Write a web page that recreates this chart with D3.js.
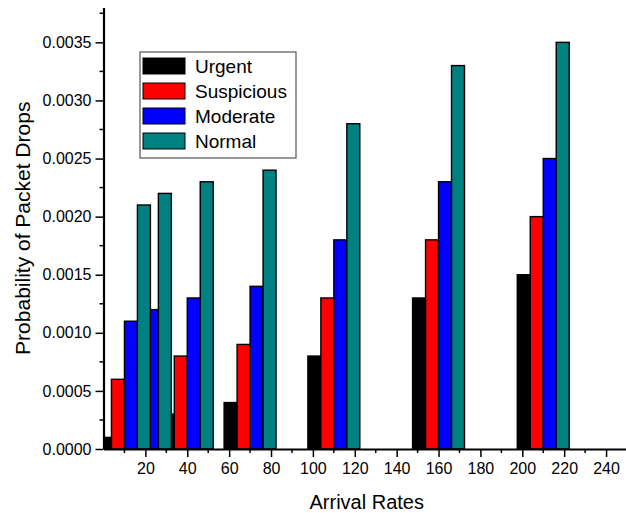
<!DOCTYPE html>
<html>
<head>
<meta charset="utf-8">
<script src="https://cdn.jsdelivr.net/npm/d3@7"></script>
<style>
	body { margin: 0; background: #fff; }
	svg { display: block; font-family: 'Liberation Sans', Arial, sans-serif; }
</style>
</head>
<body>
<div id="chart"></div>
<script>
// values (group centres on the arrival-rate axis)
const rates = [10, 20, 40, 70, 110, 160, 210];
const urgent = [0.0001, 0.0002, 0.0003, 0.0004, 0.0008, 0.0013, 0.0015];
const suspicious = [0.0006, 0.0007, 0.0008, 0.0009, 0.0013, 0.0018, 0.002];
const moderate = [0.0011, 0.0012, 0.0013, 0.0014, 0.0018, 0.0023, 0.0025];
const normal = [0.0021, 0.0022, 0.0023, 0.0024, 0.0028, 0.0033, 0.0035];

const seriesNames = ['Urgent', 'Suspicious', 'Moderate', 'Normal'];
const seriesColors = ['#000000', '#ff0000', '#0000ff', '#008080'];
const yTicks = [0, 0.0005, 0.001, 0.0015, 0.002, 0.0025, 0.003, 0.0035];
const xTicks = [20, 40, 60, 80, 100, 120, 140, 160, 180, 200, 220, 240];

const width = 626;
const height = 513;
const barUnits = 6.2; // width of one bar in axis units

const x = d3.scaleLinear().domain([0, 250]).range([103.5, 627]);
const y = d3.scaleLinear().domain([0, 0.0038]).range([449, 7.5]);

const svg = d3.select('#chart').append('svg').attr('width', width).attr('height', height);

svg.append('defs')
	.append('clipPath')
	.attr('id', 'plot-clip')
	.append('rect')
	.attr('x', x(0))
	.attr('y', 0)
	.attr('width', x(250) - x(0))
	.attr('height', y(0));

// bars drawn one series at a time, like the original plot (later series overlap earlier ones)
const allSeries = [urgent, suspicious, moderate, normal];
const bars = svg.append('g').attr('clip-path', 'url(#plot-clip)');
allSeries.forEach((values, s) => {
	bars.append('g')
		.selectAll('rect')
		.data(rates.map((r, i) => ({ rate: r, value: values[i] })))
		.join('rect')
		.attr('x', (d) => x(d.rate + (s - 2) * barUnits))
		.attr('y', (d) => y(d.value))
		.attr('width', x(barUnits) - x(0))
		.attr('height', (d) => y(0) - y(d.value))
		.attr('fill', seriesColors[s])
		.attr('stroke', '#000')
		.attr('stroke-width', 1.4);
});

// y axis: labelled major ticks + minor ticks
const yAxis = svg.append('g').attr('transform', `translate(${x(0)},0)`);
yAxis.call(
	d3.axisLeft(y)
		.tickValues(yTicks)
		.tickFormat(d3.format('.4f'))
		.tickSize(8)
		.tickSizeOuter(0)
		.tickPadding(4)
);
yAxis.append('g')
	.selectAll('line')
	.data(d3.range(0.00025, 0.0038, 0.0005))
	.join('line')
	.attr('x1', -4)
	.attr('x2', 0)
	.attr('y1', (d) => y(d))
	.attr('y2', (d) => y(d))
	.attr('stroke', '#000')
	.attr('stroke-width', 1.5);

// x axis
const xAxis = svg.append('g').attr('transform', `translate(0,${y(0)})`);
xAxis.call(
	d3.axisBottom(x)
		.tickValues(xTicks)
		.tickFormat(d3.format('d'))
		.tickSize(8)
		.tickSizeOuter(0)
		.tickPadding(6)
);
xAxis.append('g')
	.selectAll('line')
	.data(d3.range(10, 251, 20))
	.join('line')
	.attr('x1', (d) => x(d))
	.attr('x2', (d) => x(d))
	.attr('y1', 0)
	.attr('y2', 4)
	.attr('stroke', '#000')
	.attr('stroke-width', 1.5);

svg.selectAll('.domain').attr('stroke', '#000').attr('stroke-width', 2.2);
svg.selectAll('.tick line').attr('stroke', '#000').attr('stroke-width', 1.5);
svg.selectAll('.tick text').attr('font-size', 16).attr('fill', '#000').attr('font-family', null);

// axis titles
svg.append('text')
	.attr('x', (x(0) + width) / 2 + 2)
	.attr('y', 509)
	.attr('text-anchor', 'middle')
	.attr('font-size', 20)
	.text('Arrival Rates');

svg.append('text')
	.attr('transform', `translate(30,${(y(0) + y(0.0038)) / 2}) rotate(-90)`)
	.attr('text-anchor', 'middle')
	.attr('font-size', 21)
	.text('Probability of Packet Drops');

// legend
const legend = svg.append('g').attr('transform', 'translate(140,52)');
legend.append('rect')
	.attr('width', 156)
	.attr('height', 106)
	.attr('fill', '#fff')
	.attr('stroke', '#555')
	.attr('stroke-width', 1.2);
const items = legend.selectAll('g.item')
	.data(seriesNames)
	.join('g')
	.attr('class', 'item')
	.attr('transform', (d, i) => `translate(3,${6 + i * 25})`);
items.append('rect')
	.attr('width', 42)
	.attr('height', 16)
	.attr('fill', (d, i) => seriesColors[i])
	.attr('stroke', '#000')
	.attr('stroke-width', 1);
items.append('text')
	.attr('x', 52)
	.attr('y', 15)
	.attr('font-size', 19)
	.text((d) => d);
</script>
</body>
</html>
